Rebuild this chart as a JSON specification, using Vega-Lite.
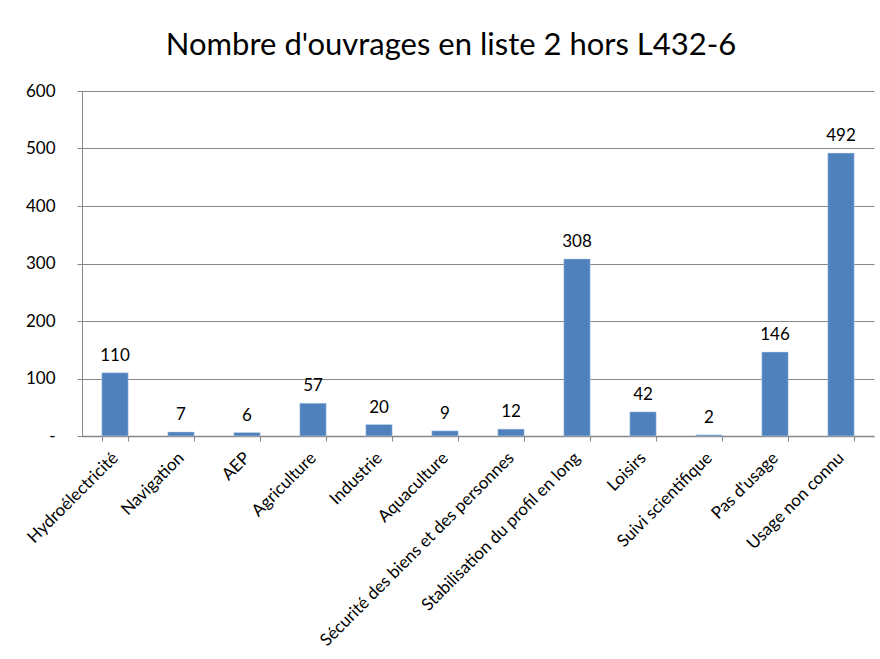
{
  "$schema": "https://vega.github.io/schema/vega-lite/v6.json",
  "autosize": {"type": "none"},
  "width": 792,
  "height": 345,
  "padding": {"left": 82, "top": 91, "right": 6, "bottom": 223},
  "background": "white",
  "title": {
    "text": "Nombre d'ouvrages en liste 2 hors L432-6",
    "font": "Lato",
    "fontSize": 31,
    "fontWeight": "normal",
    "color": "#000000",
    "anchor": "middle",
    "dx": -27,
    "offset": 20
  },
  "data": {
    "values": [
      {"usage": "Hydroélectricité", "n": 110},
      {"usage": "Navigation", "n": 7},
      {"usage": "AEP", "n": 6},
      {"usage": "Agriculture", "n": 57},
      {"usage": "Industrie", "n": 20},
      {"usage": "Aquaculture", "n": 9},
      {"usage": "Sécurité des biens et des personnes", "n": 12},
      {"usage": "Stabilisation du profil en long", "n": 308},
      {"usage": "Loisirs", "n": 42},
      {"usage": "Suivi scientifique", "n": 2},
      {"usage": "Pas d'usage", "n": 146},
      {"usage": "Usage non connu", "n": 492}
    ]
  },
  "encoding": {
    "x": {
      "field": "usage",
      "type": "nominal",
      "sort": null,
      "scale": {"paddingInner": 0.6, "paddingOuter": 0.3},
      "axis": {
        "title": null,
        "labelAngle": -45,
        "labelAlign": "right",
        "labelBaseline": "middle",
        "labelFont": "Lato",
        "labelFontSize": 17,
        "labelColor": "#000000",
        "labelPadding": 14,
        "labelLimit": 400,
        "tickBand": "extent",
        "tickSize": 5,
        "tickColor": "#868686",
        "domainColor": "#868686",
        "domainWidth": 1.5
      }
    },
    "y": {
      "field": "n",
      "type": "quantitative",
      "scale": {"domain": [0, 600]},
      "axis": {
        "title": null,
        "values": [0, 100, 200, 300, 400, 500, 600],
        "labelExpr": "datum.value == 0 ? '-\u00a0\u00a0\u00a0\u00a0\u00a0' : datum.label",
        "labelFont": "Lato",
        "labelFontSize": 17,
        "labelColor": "#000000",
        "labelPadding": 22,
        "tickSize": 5,
        "tickColor": "#868686",
        "domainColor": "#868686",
        "grid": true,
        "gridColor": "#868686",
        "gridWidth": 1
      }
    }
  },
  "layer": [
    {"mark": {"type": "bar", "color": "#4F81BD", "stroke": "#c6d6ec", "strokeWidth": 0.5}},
    {
      "mark": {"type": "text", "baseline": "bottom", "dy": -8, "font": "Lato", "fontSize": 17, "color": "#000000"},
      "encoding": {"text": {"field": "n", "type": "quantitative"}}
    }
  ],
  "config": {"view": {"stroke": null}}
}
